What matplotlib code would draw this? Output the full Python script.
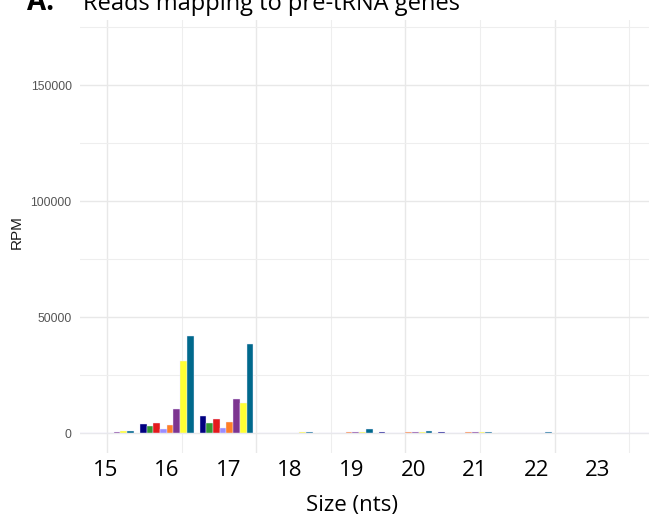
import matplotlib
matplotlib.use("Agg")
import matplotlib.pyplot as plt
import matplotlib.transforms as mtransforms
import numpy as np

# Data (RPM per read size, one list per library)
sizes = [15, 16, 17, 18, 19, 20, 21, 22, 23, 24]
size_labels = ["15", "16", "17", "18", "19", "20", "21", "22", "23"]
lib_navy = [0, 3900, 7600, 300, 300, 450, 400, 300, 300, 250]
lib_green = [0, 3000, 4300, 300, 300, 350, 300, 300, 300, 250]
lib_red = [0, 4300, 6000, 300, 300, 300, 300, 300, 300, 250]
lib_lavender = [0, 1700, 2400, 300, 300, 300, 300, 300, 300, 250]
lib_orange = [300, 3500, 4700, 300, 400, 400, 400, 300, 300, 250]
lib_purple = [500, 10300, 14700, 350, 500, 500, 550, 300, 300, 250]
lib_yellow = [800, 31000, 13200, 450, 650, 450, 650, 300, 350, 250]
lib_teal = [1200, 41900, 38400, 650, 1900, 1150, 650, 450, 350, 250]

series = [lib_navy, lib_green, lib_red, lib_lavender,
          lib_orange, lib_purple, lib_yellow, lib_teal]
colors = ["#000080", "#339933", "#e41a1c", "#9a8cff",
          "#ff7f27", "#7d3590", "#ffff33", "#00698c"]

fig = plt.figure(figsize=(6.49, 5.19), dpi=100)
ax = fig.add_axes([80 / 649, 66 / 519, 1 - 80 / 649, 433 / 519])

# dodged bars, total width 0.9 like ggplot
n = len(series)
bar_w = 0.9 / n
x = np.array(sizes, dtype=float)
for i, (vals, col) in enumerate(zip(series, colors)):
    offs = -0.45 + bar_w * (i + 0.5)
    ax.bar(x + offs, vals, width=bar_w, color=col,
           edgecolor="#ece8ff", linewidth=0.3, zorder=3)

ax.set_xlim(14.548, 24.08)
ax.set_ylim(-8477, 178017)

# grid like theme_minimal (breaks every 2.5 on x with minor in between)
ax.set_xticks([15, 17.5, 20, 22.5])
ax.set_xticks([16.25, 18.75, 21.25, 23.75], minor=True)
ax.set_yticks([0, 50000, 100000, 150000])
ax.set_yticks([25000, 75000, 125000, 175000], minor=True)
ax.grid(True, which="major", color="#e8e8e8", linewidth=1.0, zorder=0)
ax.grid(True, which="minor", color="#eeeeee", linewidth=0.8, zorder=0)
ax.tick_params(axis="both", which="both", length=0)
ax.tick_params(axis="x", labelbottom=False)
ax.set_yticklabels(["0", "50000", "100000", "150000"],
                   fontsize=8.8, color="#555555", family="Liberation Sans")
ax.tick_params(axis="y", pad=6)
for s in ax.spines.values():
    s.set_visible(False)

fig.text(17 / 649, 1 - 232 / 519, "RPM", rotation=90, ha="center",
         va="center", fontsize=11, family="Liberation Sans", color="#1a1a1a")

# overlaid size labels (slightly wider spacing than the bars)
label_step = 61.6 / 59.7
trans = mtransforms.blended_transform_factory(ax.transData, fig.transFigure)
for i, lab in enumerate(size_labels):
    ax.text(14.97 + i * label_step, 1 - 470 / 519, lab, transform=trans,
            ha="center", va="center", fontsize=16, family="Open Sans",
            color="black")

fig.text(352 / 649, 1 - 505 / 519, "Size (nts)", ha="center", va="center",
         fontsize=16, family="Open Sans", color="black")

# title, partly cut off at the top edge as in the source figure
fig.text(27 / 649, 1 - 10 / 519, "A.", ha="left", va="baseline",
         fontsize=20, fontweight="bold", family="Open Sans")
fig.text(83 / 649, 1 - 10 / 519, "Reads mapping to pre-tRNA genes",
         ha="left", va="baseline", fontsize=17, family="Open Sans")

fig.savefig("out.png", dpi=100)
